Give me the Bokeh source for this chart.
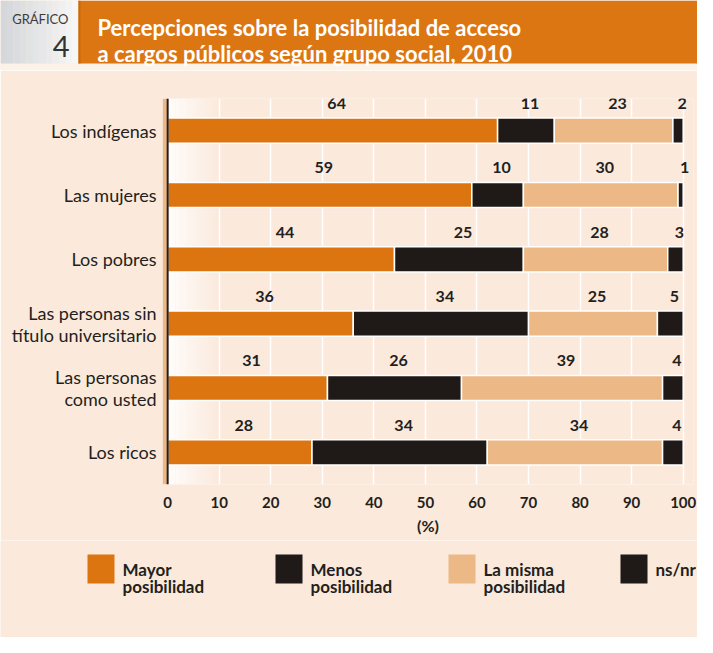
from bokeh.plotting import figure
from bokeh.layouts import column
from bokeh.models import ColumnDataSource, Range1d, FactorRange, FixedTicker, Span, BoxAnnotation
from bokeh.transform import dodge
from bokeh.core.properties import value
from bokeh.embed import file_html
from bokeh.resources import INLINE

# ---------------- data ----------------
categories = ["Los indígenas", "Las mujeres", "Los pobres",
              "Las personas sin\ntítulo universitario",
              "Las personas\ncomo usted", "Los ricos"]
mayor = [64, 59, 44, 36, 31, 28]
menos = [11, 10, 25, 34, 26, 34]
misma = [23, 30, 28, 25, 39, 34]
nsnr = [2, 1, 3, 5, 4, 4]
series_keys = ["mayor", "menos", "misma", "nsnr"]
legend_labels = ["Mayor\nposibilidad", "Menos\nposibilidad", "La misma\nposibilidad", "ns/nr"]
x_ticks = [0, 10, 20, 30, 40, 50, 60, 70, 80, 90, 100]
title_lines = ["Percepciones sobre la posibilidad de acceso",
               "a cargos públicos según grupo social, 2010"]
badge_word = "GRÁFICO"
badge_num = "4"
x_label = "(%)"

# ---------------- style ----------------
BG = "#FBE9DB"
ORANGE = "#DC7410"
BLACK = "#1F1A17"
TAN = "#ECB886"
TEXT = "#231F20"
colors = [ORANGE, BLACK, TAN, BLACK]
FONT = "Lato"
W = 697

# ---------------- header ----------------
hdr = figure(width=W, height=70, x_range=Range1d(0, W), y_range=Range1d(70, 0),
             x_axis_location=None, y_axis_location=None, min_border=0,
             toolbar_location=None, output_backend="svg", outline_line_color=None,
             background_fill_color=BG, border_fill_color=BG)
hdr.grid.visible = False
n = 12
c0 = (214, 215, 218)
c1 = (246, 246, 246)
gl, gr, gc = [], [], []
for i in range(n):
    t = i / (n - 1)
    gl.append(i * 78 / n)
    gr.append((i + 1) * 78 / n)
    gc.append("#%02x%02x%02x" % tuple(int(a + (b - a) * t) for a, b in zip(c0, c1)))
hdr.quad(left=[0], right=[W], top=[63], bottom=[70], fill_color="#FDF2E8", line_color=None)
hdr.quad(left=gl, right=gr, top=[0] * n, bottom=[63] * n, fill_color=gc, line_color=None)
hdr.quad(left=[78], right=[W], top=[0], bottom=[63], fill_color="#DC7613", line_color=None)
hdr.quad(left=[78], right=[80], top=[0], bottom=[63], fill_color="#C9680C", line_color=None)
hdr.text(x=[68], y=[18], text=[badge_word], text_align="right", text_baseline="middle",
         text_font=value(FONT), text_font_size="13px", text_color="#3C3C3C")
hdr.text(x=[69], y=[46], text=[badge_num], text_align="right", text_baseline="middle",
         text_font=value(FONT), text_font_size="29px", text_color="#333333")
hdr.text(x=[97, 97], y=[27, 53], text=title_lines, text_align="left",
         text_baseline="alphabetic", text_font=value(FONT), text_font_style="bold",
         text_font_size="22px", text_color="white")

# ---------------- main chart ----------------
src = ColumnDataSource(dict(cat=categories, mayor=mayor, menos=menos, misma=misma, nsnr=nsnr))

p = figure(width=W, height=470, x_range=Range1d(-1, 102),
           y_range=FactorRange(factors=list(reversed(categories)), range_padding=0),
           min_border_left=162, min_border_right=4, min_border_top=28, min_border_bottom=56,
           toolbar_location=None, output_backend="svg", outline_line_color=None,
           background_fill_color=BG, border_fill_color=BG)

# left white gradient and tan stripe
steps = 20
for i in range(steps):
    p.add_layout(BoxAnnotation(left=i * 0.5, right=(i + 1) * 0.5, fill_color="white",
                               fill_alpha=0.92 * (1 - i / steps), line_color=None,
                               level="underlay"))
p.add_layout(BoxAnnotation(left=-1, right=0, fill_color=TAN, fill_alpha=1.0,
                           line_color=None, level="underlay"))

p.hbar_stack(series_keys, y="cat", height=0.39, fill_color=colors, line_color="white",
             line_width=1.5, source=src)

# value labels centred above each segment
lx, ly, lt = [], [], []
for ci, cat in enumerate(categories):
    start = 0
    for arr in (mayor, menos, misma, nsnr):
        v = arr[ci]
        lx.append(start + v / 2)
        ly.append(cat)
        lt.append(str(v))
        start += v
lsrc = ColumnDataSource(dict(x=lx, cat=ly, label=lt))
p.text(x="x", y=dodge("cat", 0.42, range=p.y_range), text="label", source=lsrc,
       text_align="center", text_baseline="middle", x_offset=4,
       text_font=value(FONT), text_font_style="bold", text_font_size="16px",
       text_color=TEXT)

p.add_layout(Span(location=0, dimension="height", line_color=TEXT, line_width=2))

p.xgrid.ticker = FixedTicker(ticks=x_ticks)
p.xgrid.grid_line_color = "white"
p.xgrid.grid_line_width = 1.5
p.ygrid.grid_line_color = None

p.xaxis.ticker = FixedTicker(ticks=x_ticks)
p.xaxis.axis_line_color = None
p.xaxis.major_tick_line_color = None
p.xaxis.minor_tick_line_color = None
p.xaxis.major_label_standoff = 6
p.xaxis.major_label_text_font = FONT
p.xaxis.major_label_text_font_style = "bold"
p.xaxis.major_label_text_font_size = "15px"
p.xaxis.major_label_text_color = TEXT
p.xaxis.axis_label = x_label
p.xaxis.axis_label_standoff = 5
p.xaxis.axis_label_text_font = FONT
p.xaxis.axis_label_text_font_style = "bold"
p.xaxis.axis_label_text_font_size = "16px"
p.xaxis.axis_label_text_color = TEXT

p.yaxis.axis_line_color = None
p.yaxis.major_tick_line_color = None
p.yaxis.minor_tick_line_color = None
p.yaxis.major_label_standoff = 0
p.yaxis.major_label_text_font = FONT
p.yaxis.major_label_text_font_size = "18px"
p.yaxis.major_label_text_line_height = 1.0
p.yaxis.major_label_text_color = TEXT

# ---------------- legend ----------------
lg = figure(width=W, height=97, x_range=Range1d(0, W), y_range=Range1d(637, 540),
            x_axis_location=None, y_axis_location=None, min_border=0,
            toolbar_location=None, output_backend="svg", outline_line_color=None,
            background_fill_color=BG, border_fill_color=BG)
lg.grid.visible = False
sw_left = [87, 275, 448, 620]
lg.quad(left=sw_left, right=[v + 27 for v in sw_left], top=[554] * 4, bottom=[583] * 4,
        fill_color=colors, line_color=None)
first = [s.split("\n")[0] for s in legend_labels]
second = [s.split("\n")[1] if "\n" in s else "" for s in legend_labels]
lg.text(x=[v + 35 for v in sw_left], y=[569] * 4, text=first, text_align="left",
        text_baseline="alphabetic", text_font=value(FONT), text_font_style="bold",
        text_font_size="17px", text_color=TEXT)
lg.text(x=[v + 35 for v in sw_left[:3]], y=[586] * 3, text=second[:3], text_align="left",
        text_baseline="alphabetic", text_font=value(FONT), text_font_style="bold",
        text_font_size="17px", text_color=TEXT)

layout = column(column(hdr), column(p), column(lg), spacing=0)
open("out.html", "w").write(file_html(layout, INLINE))
